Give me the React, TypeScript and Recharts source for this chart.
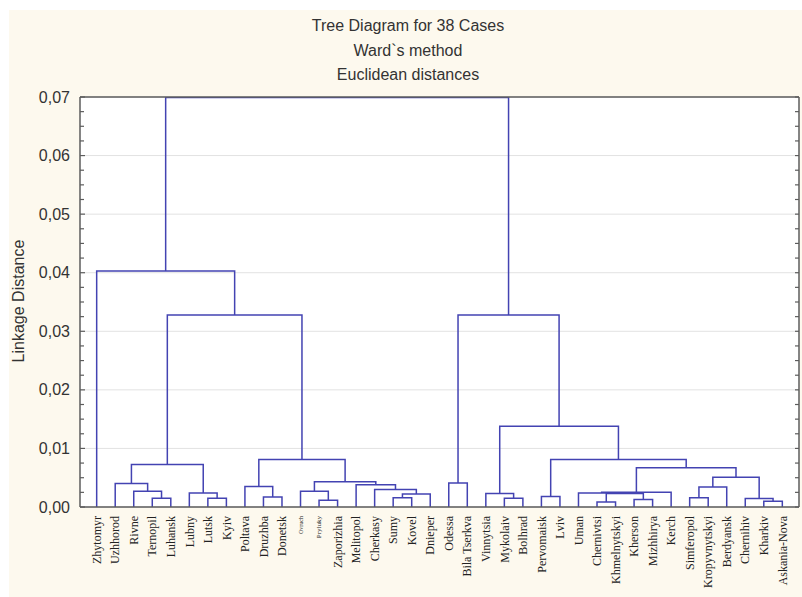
import React from "react"
import { ComposedChart, Line, XAxis, YAxis, CartesianGrid } from "recharts"

const cases = [
  "Zhytomyr", "Uzhhorod", "Rivne", "Ternopil", "Luhansk", "Lubny", "Lutsk", "Kyiv",
  "Poltava", "Druzhba", "Donetsk", "Ovruch", "Pryluky", "Zaporizhia", "Melitopol",
  "Cherkasy", "Sumy", "Kovel", "Dnieper", "Odessa", "Bila Tserkva", "Vinnytsia",
  "Mykolaiv", "Bolhrad", "Pervomaisk", "Lviv", "Uman", "Chernivtsi", "Khmelnytskyi",
  "Kherson", "Mizhhirya", "Kerch", "Simferopol", "Kropyvnytskyi", "Berdyansk",
  "Chernihiv", "Kharkiv", "Askania-Nova",
]

// merge k joins joinA[k] and joinB[k]; ids < 38 are cases, 38 + k is merge k
const joinA = [27, 36, 12, 29, 35, 3, 6, 22, 16, 32, 9, 24, 46, 21, 38, 5, 26, 54, 11, 2, 15, 47, 8, 14, 1, 19, 56, 59, 55, 62, 60, 49, 51, 67, 63, 0, 73]
const joinB = [28, 37, 13, 30, 39, 4, 7, 23, 17, 33, 10, 25, 18, 45, 41, 44, 52, 31, 40, 43, 50, 34, 48, 58, 57, 20, 61, 42, 65, 53, 64, 66, 69, 68, 70, 71, 72]
const joinHeight = [
  0.00085, 0.001, 0.00115, 0.0013, 0.00145, 0.0015, 0.0015, 0.0015, 0.0016, 0.0016,
  0.0017, 0.0018, 0.0022, 0.0023, 0.0023, 0.0024, 0.0024, 0.0025, 0.0027, 0.0027,
  0.003, 0.0034, 0.0035, 0.0038, 0.004, 0.0041, 0.0043, 0.0051, 0.0067, 0.00725,
  0.0081, 0.0081, 0.0138, 0.0328, 0.0328, 0.0403, 0.0699,
]

const distanceTicks = [0, 0.01, 0.02, 0.03, 0.04, 0.05, 0.06, 0.07]
const quarterTicks = distanceTicks
  .slice(0, -1)
  .flatMap((t) => [0, 1, 2, 3].map((q) => Math.round((t + q * 0.0025) * 10000) / 10000))
  .concat(0.07)

const n = cases.length
const leafIndex = cases.map((_, i) => i)

// each link is the usual dendrogram bracket: up from child A, across, down to child B
const pos: number[] = [...leafIndex]
const level: number[] = cases.map(() => 0)
const links = joinA.map((a, k) => {
  const b = joinB[k]
  const h = joinHeight[k]
  const pts = [
    { x: pos[a], y: level[a] },
    { x: pos[a], y: h },
    { x: pos[b], y: h },
    { x: pos[b], y: level[b] },
  ]
  pos[n + k] = (pos[a] + pos[b]) / 2
  level[n + k] = h
  return pts
})

const sans = "'Liberation Sans', Arial, sans-serif"
const frame = "#5c5c5c"
const blue = "#4343b2"
const smallNames: Record<string, number> = { Ovruch: 6, Pryluky: 7 }

const LeftTick = (props: any) => {
  const { x, y, payload } = props
  const v = payload.value
  const major = distanceTicks.some((t) => Math.abs(t - v) < 1e-9)
  return (
    <g>
      <line x1={x} x2={x + (major ? 5 : 4)} y1={y} y2={y} stroke={frame} strokeWidth={1.2} />
      {major && (
        <text x={x - 10} y={y} dy="0.35em" textAnchor="end" fontSize={16} fontFamily={sans} fill="#333">
          {v.toFixed(2).replace(".", ",")}
        </text>
      )}
    </g>
  )
}

const RightTick = (props: any) => {
  const { x, y } = props
  return <line x1={x} x2={x - 4} y1={y} y2={y} stroke={frame} strokeWidth={1.2} />
}

const TopTick = (props: any) => {
  const { x, y } = props
  return <line x1={x} x2={x} y1={y} y2={y + 4} stroke={frame} strokeWidth={1.2} />
}

const CaseTick = (props: any) => {
  const { x, y, payload } = props
  const name = cases[payload.value]
  const ty = y + 9
  return (
    <text
      x={x}
      y={ty}
      dy="0.35em"
      transform={`rotate(-90, ${x}, ${ty})`}
      textAnchor="end"
      fontSize={smallNames[name] ?? 12}
      fontFamily="'Liberation Serif', 'Times New Roman', serif"
      fill="#222"
    >
      {name}
    </text>
  )
}

export default function App() {
  return (
    <div
      style={{
        position: "absolute",
        left: 9,
        top: 10,
        width: 793,
        height: 587,
        background: "#fdf9ee",
        fontFamily: sans,
      }}
    >
      <div
        style={{
          position: "absolute",
          left: 0,
          top: 4,
          width: 798,
          textAlign: "center",
          fontSize: 16,
          lineHeight: "24.5px",
          color: "#333",
        }}
      >
        <div>Tree Diagram for 38 Cases</div>
        <div>Ward`s method</div>
        <div>Euclidean distances</div>
      </div>
      <div
        style={{
          position: "absolute",
          left: 9.5,
          top: 291,
          transform: "translate(-50%, -50%) rotate(-90deg)",
          fontSize: 16,
          color: "#333",
          whiteSpace: "nowrap",
        }}
      >
        Linkage Distance
      </div>
      <ComposedChart width={793} height={587} margin={{ top: 86, right: 0, left: 0, bottom: 0 }}>
        <CartesianGrid
          vertical={false}
          horizontalValues={distanceTicks}
          stroke="#e2e2e2"
          fill="#ffffff"
        />
        <XAxis
          dataKey="x"
          type="number"
          domain={[-0.9, 37.9]}
          allowDataOverflow
          ticks={leafIndex}
          interval={0}
          height={90}
          tickSize={0}
          tickMargin={0}
          tickLine={false}
          axisLine={{ stroke: frame, strokeWidth: 1.5 }}
          tick={<CaseTick />}
        />
        <XAxis
          xAxisId="top"
          orientation="top"
          type="number"
          domain={[-0.9, 37.9]}
          allowDataOverflow
          ticks={leafIndex}
          interval={0}
          height={1}
          tickSize={0}
          tickMargin={0}
          tickLine={false}
          axisLine={{ stroke: frame, strokeWidth: 1.5 }}
          tick={<TopTick />}
        />
        <YAxis
          type="number"
          domain={[0, 0.07]}
          allowDataOverflow
          ticks={quarterTicks}
          interval={0}
          width={71}
          tickSize={0}
          tickMargin={0}
          tickLine={false}
          axisLine={{ stroke: frame, strokeWidth: 1.5 }}
          tick={<LeftTick />}
        />
        <YAxis
          yAxisId="right"
          orientation="right"
          type="number"
          domain={[0, 0.07]}
          allowDataOverflow
          ticks={quarterTicks}
          interval={0}
          width={3}
          tickSize={0}
          tickMargin={0}
          tickLine={false}
          axisLine={{ stroke: frame, strokeWidth: 1.5 }}
          tick={<RightTick />}
        />
        {links.map((pts, i) => (
          <Line
            key={i}
            data={pts}
            dataKey="y"
            type="linear"
            stroke={blue}
            strokeWidth={1.5}
            dot={false}
            activeDot={false}
            isAnimationActive={false}
          />
        ))}
      </ComposedChart>
    </div>
  )
}
